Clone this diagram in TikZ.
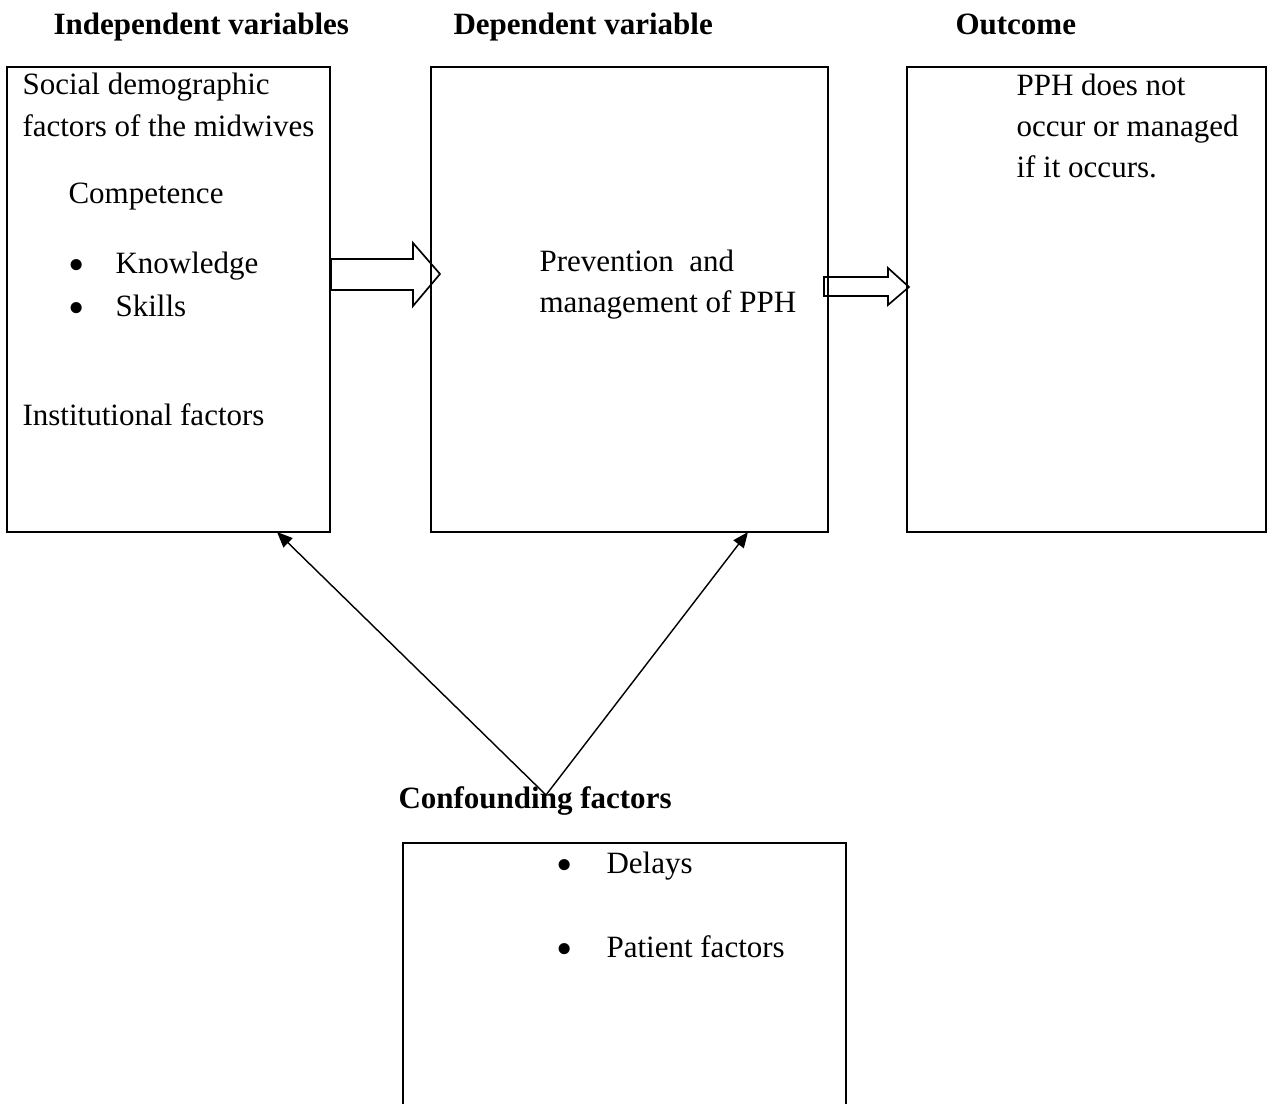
\documentclass[tikz,border=0pt]{standalone}
\usepackage{fontspec}
\setmainfont{Liberation Serif}
\usetikzlibrary{arrows.meta,fit}
\begin{document}
\begin{tikzpicture}[x=0.387pt,y=-0.387pt,
  box/.style={draw, line width=0.75pt, inner sep=0pt},
  txt/.style={anchor=base west, inner sep=0pt, font=\fontsize{12}{14}\selectfont},
  ttl/.style={anchor=base west, inner sep=0pt, font=\fontsize{12}{14}\selectfont\bfseries},
  bul/.style={anchor=base, inner sep=0pt, yshift=-2.6pt, font=\fontsize{18}{18}\selectfont},
  blockarrow/.style={draw, line width=0.65pt, line join=miter},
  conn/.style={draw, line width=0.55pt, -{Triangle[length=6pt,width=5pt]}}]
\useasboundingbox (0,0) rectangle (1269,1104);
\fill[white] (0,0) rectangle (1269,1104);

% boxes
\node[box, fit={(7,67) (330,532)}] (ind) {};
\node[box, fit={(431,67) (828,532)}] (dep) {};
\node[box, fit={(907,67) (1266,532)}] (out) {};
\node[box, fit={(403,843) (846,1130)}] (conf) {};

% titles
\node[ttl] (tind) at (53,35) {Independent variables};
\node[ttl] (tdep) at (453,35) {Dependent variable};
\node[ttl] (tout) at (955,35) {Outcome};

% independent box text
\node[txt] (i1) at (22,95) {Social demographic};
\node[txt] (i2) at (22,137) {factors of the midwives};
\node[txt] (i3) at (68,204) {Competence};
\node[bul] (ib1) at (77,274) {\textbullet};
\node[txt] (i4) at (115,274) {Knowledge};
\node[bul] (ib2) at (77,317) {\textbullet};
\node[txt] (i5) at (115,317) {Skills};
\node[txt] (i6) at (22,426) {Institutional factors};

% dependent box text
\node[txt] (d1) at (539,272) {Prevention\ \ and};
\node[txt] (d2) at (539,313) {management of PPH};

% outcome box text
\node[txt] (o1) at (1016,96) {PPH does not};
\node[txt] (o2) at (1016,137) {occur or managed};
\node[txt] (o3) at (1016,178) {if it occurs.};

% block arrows
\draw[blockarrow] (331,259) -- (413,259) -- (413,243) -- (440,274) -- (413,306) -- (413,290) -- (331,290) -- cycle;
\draw[blockarrow] (824,277) -- (888,277) -- (888,268) -- (909,287) -- (888,305) -- (888,296) -- (824,296) -- cycle;

% confounding
\node[ttl] (tconf) at (398,809) {Confounding factors};
\node[bul] (cb1) at (565,874) {\textbullet};
\node[txt] (c1) at (606,874) {Delays};
\node[bul] (cb2) at (565,958) {\textbullet};
\node[txt] (c2) at (606,958) {Patient factors};

\coordinate (apex) at (546,795);
\coordinate (tip1) at (277,532);
\coordinate (tip2) at (748,532);
\draw[conn] (apex) -- (tip1);
\draw[conn] (apex) -- (tip2);
\end{tikzpicture}
\end{document}
